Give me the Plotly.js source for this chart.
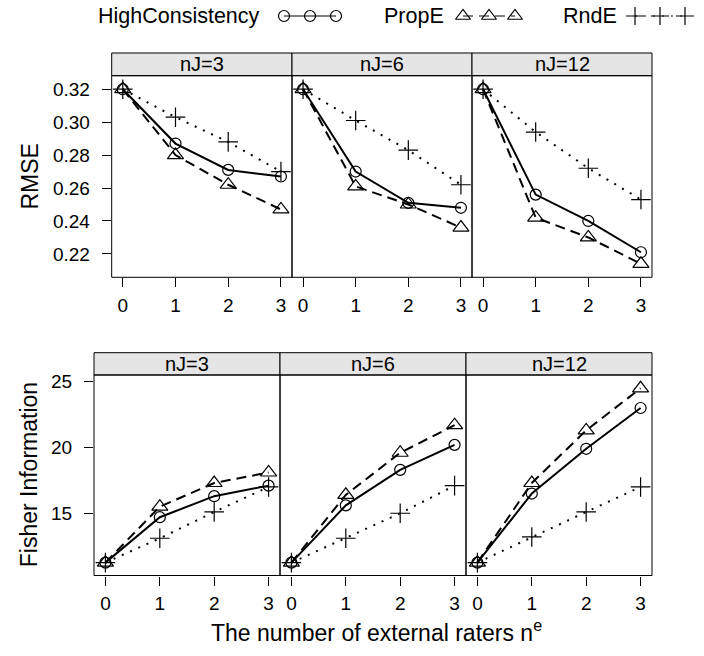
<!DOCTYPE html>
<html>
<head>
<meta charset="utf-8">
<script src="https://cdn.plot.ly/plotly-3.0.1.min.js"></script>
<style>
html,body{margin:0;padding:0;background:#fff;}
#chart{width:704px;height:656px;}
</style>
</head>
<body>
<div id="chart"></div>
<script>
// ---- data ----
const panelLabels = ['nJ=3', 'nJ=6', 'nJ=12'];
const raters = [0, 1, 2, 3];
const xTicks = [0, 1, 2, 3];
const rmseTicks = [0.22, 0.24, 0.26, 0.28, 0.30, 0.32];
const rmseTickText = ['0.22', '0.24', '0.26', '0.28', '0.30', '0.32'];
const fisherTicks = [15, 20, 25];

const hcRMSE_3  = [0.320, 0.287, 0.271, 0.267];
const hcRMSE_6  = [0.320, 0.270, 0.251, 0.248];
const hcRMSE_12 = [0.320, 0.256, 0.240, 0.221];
const propRMSE_3  = [0.320, 0.280, 0.262, 0.247];
const propRMSE_6  = [0.320, 0.261, 0.250, 0.236];
const propRMSE_12 = [0.320, 0.242, 0.230, 0.214];
const rndRMSE_3  = [0.320, 0.303, 0.288, 0.270];
const rndRMSE_6  = [0.320, 0.301, 0.283, 0.262];
const rndRMSE_12 = [0.320, 0.294, 0.272, 0.253];

const hcFI_3  = [11.25, 14.7, 16.3, 17.1];
const hcFI_6  = [11.25, 15.6, 18.3, 20.2];
const hcFI_12 = [11.25, 16.5, 19.9, 23.0];
const propFI_3  = [11.25, 15.5, 17.3, 18.1];
const propFI_6  = [11.25, 16.4, 19.6, 21.7];
const propFI_12 = [11.25, 17.3, 21.3, 24.5];
const rndFI_3  = [11.25, 13.1, 15.1, 17.0];
const rndFI_6  = [11.25, 13.1, 15.0, 17.1];
const rndFI_12 = [11.25, 13.2, 15.1, 17.0];

const seriesNames = ['HighConsistency', 'PropE', 'RndE'];

// ---- layout constants (pixels) ----
const W = 704, H = 656;
const FONT = 'Liberation Sans, Arial, Helvetica, sans-serif';
const px = x => x / W;
const py = y => 1 - y / H;
const rows = [
  {strip: 53, top: 75.7, bottom: 277.3, cols: [[111.7, 292], [292, 472], [472, 652]],
   range: [0.2058, 0.3282], ticks: rmseTicks, tickText: rmseTickText, title: 'RMSE',
   data: [[hcRMSE_3, propRMSE_3, rndRMSE_3], [hcRMSE_6, propRMSE_6, rndRMSE_6], [hcRMSE_12, propRMSE_12, rndRMSE_12]]},
  {strip: 352.7, top: 375, bottom: 575.5, cols: [[94, 280], [280, 466], [466, 652]],
   range: [10.27, 25.51], ticks: fisherTicks, tickText: fisherTicks.map(String), title: 'Fisher Information',
   data: [[hcFI_3, propFI_3, rndFI_3], [hcFI_6, propFI_6, rndFI_6], [hcFI_12, propFI_12, rndFI_12]]}
];

const styles = [
  {line: {color: 'black', width: 2, dash: 'solid'}, marker: {symbol: 'circle-open', size: 11, color: 'black', line: {width: 1.2, color: 'black'}}},
  {line: {color: 'black', width: 2, dash: '10px,6px'}, marker: {symbol: 'triangle-up-open', size: 14, color: 'black', line: {width: 1.2, color: 'black'}}},
  {line: {color: 'black', width: 2, dash: '2px,7px'}, marker: {symbol: 'cross-thin', size: 14, color: 'black', line: {width: 1.2, color: 'black'}}}
];

const traces = [];
const shapes = [];
const annotations = [];
const layout = {
  width: W, height: H,
  margin: {l: 0, r: 0, t: 0, b: 0},
  paper_bgcolor: 'white', plot_bgcolor: 'rgba(0,0,0,0)',
  showlegend: false,
  font: {family: FONT, color: 'black', size: 19}
};

let n = 0;
rows.forEach((row, r) => {
  row.cols.forEach((c, k) => {
    n++;
    const xa = 'xaxis' + n, ya = 'yaxis' + n;
    const xs = 'x' + n, ys = 'y' + n;
    layout[xa] = {
      domain: [px(c[0]), px(c[1])], range: [-0.21, 3.21], anchor: ys,
      tickmode: 'array', tickvals: xTicks, ticktext: xTicks.map(String),
      ticks: 'outside', ticklen: 9, tickwidth: 1, tickcolor: 'black',
      showgrid: false, zeroline: false, showline: false,
      tickfont: {family: FONT, size: 19, color: 'black'}, ticklabelstandoff: 2,
      fixedrange: true
    };
    layout[ya] = {
      domain: [py(row.bottom), py(row.top)], range: row.range, anchor: xs,
      tickmode: 'array', tickvals: row.ticks, ticktext: row.tickText,
      ticks: k === 0 ? 'outside' : '', ticklen: 9, tickwidth: 1, tickcolor: 'black',
      showticklabels: k === 0,
      showgrid: false, zeroline: false, showline: false,
      tickfont: {family: FONT, size: 19, color: 'black'}, ticklabelstandoff: 8,
      fixedrange: true
    };
    row.data[k].forEach((vals, s) => {
      traces.push({
        type: 'scatter', mode: 'lines+markers', x: raters, y: vals,
        xaxis: xs, yaxis: ys, name: seriesNames[s],
        line: styles[s].line, marker: styles[s].marker, cliponaxis: false, hoverinfo: 'skip'
      });
    });
    // panel box
    shapes.push({type: 'rect', xref: 'paper', yref: 'paper', x0: px(c[0]), x1: px(c[1]), y0: py(row.bottom), y1: py(row.top),
      line: {color: 'black', width: 1}, fillcolor: 'rgba(0,0,0,0)', layer: 'above'});
    // strip
    shapes.push({type: 'rect', xref: 'paper', yref: 'paper', x0: px(c[0]), x1: px(c[1]), y0: py(row.top), y1: py(row.strip),
      line: {color: 'black', width: 1}, fillcolor: '#e5e5e5', layer: 'below'});
    annotations.push({xref: 'paper', yref: 'paper', x: px((c[0] + c[1]) / 2), y: py((row.top + row.strip) / 2),
      text: panelLabels[k], showarrow: false, xanchor: 'center', yanchor: 'middle',
      font: {family: FONT, size: 20, color: 'black'}});
  });
  // row y title
  annotations.push({xref: 'paper', yref: 'paper', x: px(29), y: py((row.top + row.bottom) / 2),
    text: row.title, showarrow: false, textangle: -90, xanchor: 'center', yanchor: 'middle',
    font: {family: FONT, size: 23, color: 'black'}});
});

// x title
annotations.push({xref: 'paper', yref: 'paper', x: px(376), y: py(631),
  text: 'The number of external raters n<sup>e</sup>', showarrow: false, xanchor: 'center', yanchor: 'middle',
  font: {family: FONT, size: 23, color: 'black'}});

// custom key (text before symbols) on an overlay pixel axis
layout.xaxis7 = {domain: [0, 1], range: [0, W], visible: false, fixedrange: true, anchor: 'y7'};
layout.yaxis7 = {domain: [0, 1], range: [H, 0], visible: false, fixedrange: true, anchor: 'x7'};
const keyY = 16;
const keyItems = [
  {textLeft: 96, keyX: [284, 310, 336]},
  {textLeft: 382, keyX: [463, 489, 515]},
  {textLeft: 561, keyX: [635, 660, 685]}
];
const keySizes = [11, 13, 13];
keyItems.forEach((it, s) => {
  annotations.push({xref: 'paper', yref: 'paper', x: px(it.textLeft), y: py(keyY), text: seriesNames[s],
    showarrow: false, xanchor: 'left', yanchor: 'middle', font: {family: FONT, size: 21.5, color: 'black'}});
  traces.push({type: 'scatter', mode: 'lines+markers', x: it.keyX, y: it.keyX.map(() => keyY),
    xaxis: 'x7', yaxis: 'y7', line: Object.assign({}, styles[s].line, {width: 1}),
    marker: Object.assign({}, styles[s].marker, {size: keySizes[s]}), hoverinfo: 'skip', cliponaxis: false});
});

layout.shapes = shapes;
layout.annotations = annotations;
Plotly.newPlot('chart', traces, layout, {staticPlot: true, displayModeBar: false});
</script>
</body>
</html>
